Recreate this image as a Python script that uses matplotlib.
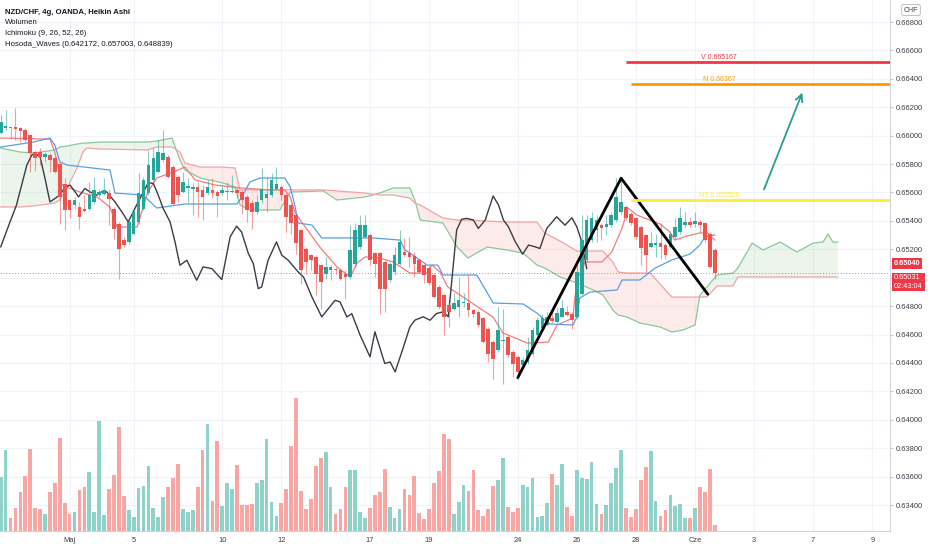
import numpy as np
import matplotlib
matplotlib.use("Agg")
import matplotlib.pyplot as plt

plt.rcParams['font.family'] = ['Liberation Sans', 'DejaVu Sans']

# Heikin Ashi candles, 4h bars
ha_open = [0.66016, 0.66051, 0.66063, 0.66058, 0.66051, 0.66039, 0.66004, 0.65886, 0.65882, 0.65851,
           0.65863, 0.65840, 0.65804, 0.65663, 0.65546, 0.65511, 0.65499, 0.65487, 0.65487, 0.65534,
           0.65581, 0.65586, 0.65593, 0.65487, 0.65381, 0.65264, 0.65252, 0.65311, 0.65393, 0.65487,
           0.65593, 0.65687, 0.65745, 0.65828, 0.65851, 0.65781, 0.65710, 0.65605, 0.65633, 0.65628,
           0.65640, 0.65617, 0.65593, 0.65617, 0.65605, 0.65593, 0.65605, 0.65605, 0.65617, 0.65605,
           0.65570, 0.65523, 0.65464, 0.65546, 0.65558, 0.65581, 0.65628, 0.65640, 0.65581, 0.65511,
           0.65440, 0.65335, 0.65205, 0.65158, 0.65147, 0.65088, 0.65029, 0.65053, 0.65064, 0.65053,
           0.65029, 0.65005, 0.65100, 0.65217, 0.65288, 0.65300, 0.65171, 0.65171, 0.65112, 0.64983,
           0.65042, 0.65100, 0.65183, 0.65171, 0.65152, 0.65124, 0.65089, 0.65065, 0.65018, 0.64936,
           0.64877, 0.64807, 0.64783, 0.64795, 0.64819, 0.64822, 0.64776, 0.64760, 0.64713, 0.64642,
           0.64548, 0.64490, 0.64555, 0.64584, 0.64478, 0.64443, 0.64384, 0.64405, 0.64460, 0.64597,
           0.64644, 0.64667, 0.64714, 0.64691, 0.64726, 0.64761, 0.64742, 0.64724, 0.64888, 0.65123,
           0.65264, 0.65335, 0.65370, 0.65358, 0.65370, 0.65405, 0.65464, 0.65499, 0.65452, 0.65417,
           0.65358, 0.65300, 0.65217, 0.65229, 0.65241, 0.65229, 0.65217, 0.65288, 0.65323, 0.65370,
           0.65393, 0.65375, 0.65393, 0.65382, 0.65311, 0.65194]
ha_close = [0.66098, 0.66070, 0.66051, 0.66046, 0.66032, 0.65969, 0.65875, 0.65840, 0.65851, 0.65868,
            0.65828, 0.65741, 0.65569, 0.65475, 0.65475, 0.65546, 0.65428, 0.65470, 0.65581, 0.65616,
            0.65605, 0.65616, 0.65557, 0.65346, 0.65205, 0.65229, 0.65393, 0.65464, 0.65593, 0.65687,
            0.65792, 0.65840, 0.65886, 0.65875, 0.65710, 0.65522, 0.65581, 0.65675, 0.65645, 0.65640,
            0.65605, 0.65565, 0.65640, 0.65593, 0.65574, 0.65617, 0.65609, 0.65612, 0.65593, 0.65546,
            0.65476, 0.65464, 0.65534, 0.65628, 0.65588, 0.65687, 0.65659, 0.65581, 0.65429, 0.65382,
            0.65241, 0.65053, 0.65111, 0.65123, 0.65029, 0.64970, 0.65076, 0.65076, 0.65053, 0.64994,
            0.65005, 0.65194, 0.65335, 0.65370, 0.65371, 0.65124, 0.65100, 0.64924, 0.64924, 0.65100,
            0.65159, 0.65253, 0.65159, 0.65143, 0.65100, 0.65042, 0.65018, 0.64960, 0.64866, 0.64795,
            0.64725, 0.64760, 0.64819, 0.64842, 0.64826, 0.64776, 0.64748, 0.64666, 0.64548, 0.64466,
            0.64431, 0.64631, 0.64565, 0.64454, 0.64396, 0.64337, 0.64419, 0.64490, 0.64632, 0.64703,
            0.64714, 0.64726, 0.64696, 0.64749, 0.64785, 0.64738, 0.64703, 0.65041, 0.65264, 0.65405,
            0.65417, 0.65405, 0.65347, 0.65375, 0.65440, 0.65570, 0.65535, 0.65417, 0.65382, 0.65288,
            0.65206, 0.65158, 0.65241, 0.65241, 0.65217, 0.65158, 0.65311, 0.65358, 0.65417, 0.65393,
            0.65370, 0.65398, 0.65370, 0.65264, 0.65076, 0.65031]
ha_high = [0.66145, 0.66180, 0.66063, 0.66192, 0.66063, 0.66051, 0.66009, 0.65898, 0.65910, 0.65886,
           0.65875, 0.65851, 0.65816, 0.65699, 0.65557, 0.65569, 0.65534, 0.65581, 0.65675, 0.65710,
           0.65628, 0.65699, 0.65628, 0.65499, 0.65393, 0.65287, 0.65405, 0.65475, 0.65734, 0.65710,
           0.65898, 0.65910, 0.65969, 0.66039, 0.65863, 0.65792, 0.65722, 0.65746, 0.65699, 0.65664,
           0.65675, 0.65652, 0.65687, 0.65699, 0.65617, 0.65652, 0.65675, 0.65722, 0.65640, 0.65617,
           0.65581, 0.65546, 0.65581, 0.65769, 0.65711, 0.65734, 0.65781, 0.65652, 0.65593, 0.65523,
           0.65452, 0.65346, 0.65217, 0.65170, 0.65158, 0.65100, 0.65147, 0.65088, 0.65076, 0.65064,
           0.65053, 0.65370, 0.65382, 0.65440, 0.65441, 0.65312, 0.65183, 0.65183, 0.65124, 0.65112,
           0.65218, 0.65336, 0.65277, 0.65288, 0.65183, 0.65136, 0.65100, 0.65089, 0.65030, 0.64948,
           0.64889, 0.64819, 0.64889, 0.65007, 0.64889, 0.65018, 0.64783, 0.64772, 0.64725, 0.64654,
           0.64560, 0.64795, 0.64783, 0.64595, 0.64490, 0.64454, 0.64443, 0.64584, 0.64654, 0.64720,
           0.64745, 0.64760, 0.64760, 0.64790, 0.64840, 0.64800, 0.64760, 0.65088, 0.65440, 0.65440,
           0.65464, 0.65440, 0.65382, 0.65440, 0.65464, 0.65699, 0.65711, 0.65511, 0.65464, 0.65429,
           0.65370, 0.65311, 0.65323, 0.65311, 0.65382, 0.65241, 0.65323, 0.65417, 0.65499, 0.65464,
           0.65429, 0.65464, 0.65405, 0.65393, 0.65323, 0.65206]
ha_low = [0.66009, 0.66039, 0.65981, 0.65969, 0.65957, 0.65957, 0.65745, 0.65750, 0.65792, 0.65816,
          0.65745, 0.65734, 0.65381, 0.65334, 0.65417, 0.65487, 0.65346, 0.65464, 0.65475, 0.65522,
          0.65569, 0.65581, 0.65370, 0.65276, 0.64994, 0.65217, 0.65240, 0.65299, 0.65381, 0.65475,
          0.65581, 0.65675, 0.65734, 0.65816, 0.65699, 0.65511, 0.65534, 0.65593, 0.65534, 0.65440,
          0.65429, 0.65405, 0.65581, 0.65558, 0.65429, 0.65581, 0.65546, 0.65598, 0.65558, 0.65452,
          0.65393, 0.65346, 0.65452, 0.65523, 0.65464, 0.65570, 0.65617, 0.65546, 0.65323, 0.65311,
          0.65170, 0.64959, 0.65029, 0.65053, 0.64876, 0.64783, 0.64994, 0.64982, 0.65029, 0.64982,
          0.64853, 0.64994, 0.65076, 0.65205, 0.65277, 0.65089, 0.65007, 0.64748, 0.64760, 0.64971,
          0.65018, 0.65089, 0.65147, 0.65077, 0.65007, 0.65030, 0.64960, 0.64948, 0.64854, 0.64783,
          0.64595, 0.64654, 0.64772, 0.64725, 0.64795, 0.64720, 0.64725, 0.64654, 0.64537, 0.64407,
          0.64290, 0.64478, 0.64255, 0.64443, 0.64302, 0.64290, 0.64372, 0.64396, 0.64450, 0.64590,
          0.64635, 0.64660, 0.64680, 0.64680, 0.64720, 0.64730, 0.64640, 0.64712, 0.64877, 0.65112,
          0.65253, 0.65253, 0.65264, 0.65300, 0.65358, 0.65393, 0.65452, 0.65405, 0.65370, 0.65276,
          0.65088, 0.65041, 0.65206, 0.65147, 0.65135, 0.65135, 0.65206, 0.65276, 0.65311, 0.65358,
          0.65358, 0.65358, 0.65323, 0.65253, 0.65065, 0.64994]

volume = [53.7, 81, 12.7, 22.7, 39.3, 55, 82, 22.7, 21.7, 17, 38.7, 48.3, 92.7, 27.7, 16.7, 18.7,
          41, 43.7, 59.3, 18.7, 110.3, 15.7, 41.7, 55.7, 103.7, 35, 21, 14, 43, 45, 64.7, 23, 14,
          34.3, 43.7, 52.7, 66.7, 22, 19.3, 21, 43.7, 81.3, 107, 29.7, 89.7, 25, 47.7, 42.3, 65.7,
          25.7, 25.7, 27.3, 47.7, 50.7, 91.7, 28.7, 14.7, 28, 41.7, 84.7, 132.7, 40.3, 22.3, 32, 65,
          73.3, 78.7, 44.3, 17, 21.7, 43.7, 61, 61, 19.3, 13, 22.7, 35.7, 39, 62, 24, 12.7, 21.7,
          42.3, 35.7, 55, 18, 12, 22, 48.3, 60, 97, 92, 17.3, 28.7, 45.7, 39.7, 61, 21, 14.7, 22,
          45, 50.7, 72.7, 24, 19, 23, 45.7, 44.3, 53, 14, 14.7, 28, 57, 45.7, 66.7, 23.7, 15.3, 61,
          53, 52.3, 68.7, 26.7, 17.3, 26, 48.3, 63, 80.7, 23, 14, 22, 51, 63.7, 80, 29.7, 15.3,
          20.7, 35.7, 24.7, 27.3, 13.3, 13.3, 22.7, 43.7, 39, 62, 6]

# Ichimoku (9, 26, 52, 26) lines: bar index / price
tenkan_bar = [0, 10.0, 11.0, 12.4, 16.1, 19.6, 22.2, 23.6, 27.7, 29.9, 31.7, 35.0, 37.4, 39.5, 43.5,
              48.6, 54.7, 57.7, 58.8, 59.8, 64.8, 68.3, 71.0, 72.4, 74.0, 77.0, 79.7, 83.1, 86.6,
              87.6, 89.2, 90.8, 93.3, 96.3, 100.0, 102.0, 104.0, 106.9, 111.2, 113.0, 116.2, 116.6,
              117.2, 118.7, 122.1, 124.1, 126.2, 127.4, 129.2, 133.9, 135.9, 136.9, 139.4, 142.0,
              143.6, 145.0]
tenkan_val = [0.65983, 0.65976, 0.65885, 0.65653, 0.65603, 0.65568, 0.65498, 0.65357, 0.65357, 0.65603,
              0.65702, 0.65744, 0.65779, 0.65688, 0.65653, 0.65632, 0.65618, 0.65618, 0.65568, 0.65456,
              0.65216, 0.65075, 0.65005, 0.65104, 0.65146, 0.65139, 0.65111, 0.65033, 0.65033, 0.65089,
              0.65040, 0.64935, 0.64878, 0.64808, 0.64723, 0.64611, 0.64583, 0.64540, 0.64547, 0.64667,
              0.64716, 0.64857, 0.64998, 0.65111, 0.65111, 0.65181, 0.65350, 0.65491, 0.65441, 0.65378,
              0.65322, 0.65265, 0.65294, 0.65315, 0.65315, 0.65265]
kijun_bar = [0, 6.6, 10.0, 11.0, 12.0, 13.5, 22.2, 23.2, 28.9, 31.7, 37.4, 48.0, 49.0, 50.6, 52.7,
             57.7, 58.8, 59.8, 60.4, 63.2, 65.2, 75.6, 81.1, 82.1, 83.1, 86.6, 88.8, 89.8, 96.7,
             100.0, 106.1, 108.9, 110.5, 111.6, 116.2, 117.0, 117.6, 119.7, 125.2, 126.2, 129.8,
             132.9, 136.3, 140.0, 142.0, 143.0, 145.0]
kijun_val = [0.65920, 0.65955, 0.65983, 0.65934, 0.65815, 0.65793, 0.65758, 0.65596, 0.65582, 0.65491,
             0.65519, 0.65519, 0.65568, 0.65674, 0.65702, 0.65702, 0.65639, 0.65498, 0.65385, 0.65371,
             0.65280, 0.65280, 0.65265, 0.65195, 0.65174, 0.65089, 0.65089, 0.65019, 0.65019, 0.64822,
             0.64815, 0.64751, 0.64702, 0.64674, 0.64667, 0.64723, 0.64857, 0.64899, 0.64914, 0.64984,
             0.64984, 0.65068, 0.65125, 0.65167, 0.65230, 0.65287, 0.65301]
chikou_bar = [0, 1.9, 3.2, 5.3, 6.3, 7.0, 8.0, 9.0, 10.0, 11.0, 12.0, 13.1, 14.1, 15.1, 15.8, 17.1,
              18.1, 19.5, 20.5, 21.5, 23.2, 24.6, 25.9, 27.6, 29.0, 30.0, 31.0, 32.0, 33.0, 34.4,
              35.4, 36.4, 37.8, 39.8, 41.1, 42.9, 44.9, 46.6, 47.9, 48.9, 50.3, 51.3, 52.3, 53.0,
              54.3, 56.0, 57.1, 58.4, 60.4, 61.5, 63.2, 65.2, 67.9, 68.9, 70.3, 71.3, 73.0, 75.0,
              76.0, 78.0, 79.1, 80.1, 81.8, 83.1, 84.1, 85.8, 87.2, 88.5, 89.9, 90.9, 92.6, 93.6,
              94.6, 96.0, 97.0, 98.4, 100.0, 101.1, 102.1, 103.1, 104.5, 106.0, 107.2, 108.5, 109.5,
              110.9, 112.9, 114.6, 116.0, 117.0, 118.0, 119.0]
chikou_val = [0.65217, 0.65393, 0.65511, 0.65792, 0.65863, 0.65875, 0.65851, 0.65699, 0.65534, 0.65557,
              0.65581, 0.65640, 0.65651, 0.65605, 0.65569, 0.65628, 0.65605, 0.65581, 0.65605, 0.65605,
              0.65534, 0.65464, 0.65393, 0.65511, 0.65605, 0.65670, 0.65663, 0.65581, 0.65487, 0.65393,
              0.65252, 0.65088, 0.65123, 0.64982, 0.65076, 0.65064, 0.64987, 0.65288, 0.65363, 0.65323,
              0.65170, 0.65100, 0.64923, 0.64935, 0.65123, 0.65252, 0.65158, 0.65123, 0.65041, 0.65005,
              0.64865, 0.64724, 0.64841, 0.64830, 0.64724, 0.64747, 0.64595, 0.64443, 0.64619, 0.64396,
              0.64407, 0.64337, 0.64513, 0.64654, 0.64701, 0.64725, 0.64701, 0.64748, 0.64760, 0.64725,
              0.65336, 0.65411, 0.65418, 0.65406, 0.65347, 0.65406, 0.65575, 0.65512, 0.65406, 0.65359,
              0.65253, 0.65166, 0.65230, 0.65218, 0.65206, 0.65347, 0.65429, 0.65370, 0.65422, 0.65358,
              0.65253, 0.65065]
span_bar = [0, 3.9, 6.6, 11.0, 12.0, 13.5, 15.5, 16.7, 17.5, 20.2, 29.7, 31.7, 34.8, 36.4, 37.4,
            40.5, 45.1, 47.6, 48.6, 50.6, 56.7, 58.8, 65.5, 68.3, 74.0, 77.0, 79.7, 83.1, 84.1, 85.2,
            89.8, 92.7, 94.9, 98.8, 102.8, 106.1, 108.9, 110.5, 113.6, 117.0, 120.3, 122.3, 124.3,
            125.4, 127.2, 129.8, 131.9, 133.9, 136.3, 138.6, 141.0, 142.0, 143.4, 145.5, 148.7,
            149.7, 152.6, 154.8, 158.3, 161.7, 165.0, 167.0, 168.0, 169.0, 170.0]
span_a = [0.65913, 0.65885, 0.65878, 0.65899, 0.65920, 0.65927, 0.65941, 0.65948, 0.65948, 0.65955,
          0.65955, 0.65962, 0.65983, 0.65829, 0.65758, 0.65702, 0.65667, 0.65639, 0.65512, 0.65477,
          0.65477, 0.65603, 0.65611, 0.65547, 0.65568, 0.65596, 0.65632, 0.65632, 0.65547, 0.65406,
          0.65385, 0.65216, 0.65139, 0.65216, 0.65195, 0.65174, 0.65089, 0.65068, 0.65005, 0.64963,
          0.64914, 0.64878, 0.64773, 0.64737, 0.64723, 0.64681, 0.64667, 0.64653, 0.64618, 0.64632,
          0.64667, 0.64878, 0.64935, 0.65019, 0.65033, 0.65068, 0.65244, 0.65195, 0.65251, 0.65181,
          0.65244, 0.65251, 0.65308, 0.65251, 0.65251]
span_b = [0.65498, 0.65498, 0.65505, 0.65526, 0.65547, 0.65632, 0.65772, 0.65885, 0.65913, 0.65906,
          0.65899, 0.65920, 0.65920, 0.65885, 0.65808, 0.65779, 0.65779, 0.65772, 0.65618, 0.65618,
          0.65618, 0.65618, 0.65618, 0.65611, 0.65596, 0.65582, 0.65582, 0.65561, 0.65526, 0.65512,
          0.65420, 0.65406, 0.65406, 0.65399, 0.65392, 0.65392, 0.65392, 0.65315, 0.65258, 0.65188,
          0.65188, 0.65188, 0.65111, 0.65040, 0.65033, 0.65033, 0.65033, 0.64956, 0.64864, 0.64864,
          0.64864, 0.64864, 0.64864, 0.64942, 0.64942, 0.65005, 0.65005, 0.65005, 0.65005, 0.65005,
          0.65005, 0.65005, 0.65005, 0.65005, 0.65005]

# Hosoda waves: A-B-C swing and projected targets
wave_bar = [105.0, 126.0, 143.6]
wave_val = [0.64296, 0.657003, 0.648839]
level_names = ["V", "N", "NT"]
level_values = [0.665167, 0.66367, 0.655506]
level_start = [127.0, 128.0, 128.0]
level_colors = ["#F23645", "#FF9800", "#FFEB3B"]

arrow_from = (154.8, 0.65603)
arrow_to = (163.0, 0.66321)

date_ticks = [14, 27, 45, 57, 75, 87, 105, 117, 129, 141, 153, 165, 177]
date_labels = ["Maj", "5", "10", "12", "17", "19", "24", "26", "28", "Cze", "3", "7", "9"]
price_ticks = [0.634, 0.636, 0.638, 0.640, 0.642, 0.644, 0.646, 0.648, 0.650,
               0.652, 0.654, 0.656, 0.658, 0.660, 0.662, 0.664, 0.666, 0.668]
badge_prices = ["0.65040", "0.65031"]
countdown = "02:43:04"

UP = "#26A69A"
DOWN = "#EF5350"

fig = plt.figure(figsize=(9.32, 5.5), dpi=100)
ax = fig.add_axes([0, 19 / 550, 890 / 932, 531 / 550])

idx = np.arange(len(ha_close))
o = np.array(ha_open)
c = np.array(ha_close)
h = np.array(ha_high)
l = np.array(ha_low)
up = c >= o
col = np.where(up, UP, DOWN)

# cloud
sx = np.array(span_bar)
sa = np.array(span_a)
sb = np.array(span_b)
ax.fill_between(sx, sa, sb, where=sa >= sb, interpolate=True, color="#43A047", alpha=0.10, lw=0, zorder=1)
ax.fill_between(sx, sa, sb, where=sa < sb, interpolate=True, color="#F44336", alpha=0.10, lw=0, zorder=1)
ax.plot(sx, sa, color="#8CC79A", lw=0.9, zorder=2)
ax.plot(sx, sb, color="#F3A3A3", lw=0.9, zorder=2)

ax.plot(tenkan_bar, tenkan_val, color="#F47B7F", lw=0.9, zorder=2)
ax.plot(kijun_bar, kijun_val, color="#5A9FE6", lw=0.9, zorder=2)
ax.plot(chikou_bar, chikou_val, color="#3A3D45", lw=1.0, zorder=2)

# candles
ax.vlines(idx, l, h, colors=col, lw=0.8, alpha=0.55, zorder=3)
body = np.maximum(np.abs(c - o), 0.00004)
ax.bar(idx, body, bottom=np.minimum(o, c), width=0.74, color=col, lw=0, zorder=4)

# last price line
ax.axhline(ha_close[-1], color="#F23645", ls=(0, (1, 2)), lw=0.7, alpha=0.7, zorder=2)

# hosoda wave + projected levels
ax.plot(wave_bar, wave_val, color="black", lw=2, zorder=5, solid_capstyle="round")
for name, val, x0, lc in zip(level_names, level_values, level_start, level_colors):
    ax.plot([x0, 181], [val, val], color=lc, lw=2, zorder=5, solid_capstyle="butt")
    ax.text(145.9, val + 0.00006, f"{name} {val}", color=lc, fontsize=5, ha="center", va="bottom", zorder=6)

ax.annotate("", xy=arrow_to, xytext=arrow_from,
            arrowprops=dict(arrowstyle="->,head_length=0.5,head_width=0.25", color="#2A9D8F", lw=1.3),
            zorder=6)

ax.set_xlim(-0.14, 180.6)
ax.set_ylim(0.63217, 0.66955)

ax.set_xticks(date_ticks)
ax.set_xticklabels(date_labels)
ax.grid(True, color="#F0F3FA", lw=0.8)
ax.set_axisbelow(True)
for s in ["top", "left"]:
    ax.spines[s].set_visible(False)
for s in ["right", "bottom"]:
    ax.spines[s].set_color("#D1D4DC")
    ax.spines[s].set_linewidth(0.8)

# volume overlay
ax_v = ax.twinx()
vcol = np.where(up, "#8FD2CA", "#F7A6A4")
ax_v.bar(idx, volume, width=0.76, color=vcol, lw=0, zorder=1)
ax_v.set_ylim(0, 531)
ax_v.set_yticks([])
for s in ax_v.spines.values():
    s.set_visible(False)

# price scale on the right (set after twinx, which moves ticks left);
# the 0.65000 label sits under the last-price badges, so it is left blank
ax.set_yticks(price_ticks)
ax.set_yticklabels(["" if abs(p - 0.650) < 1e-9 else f"{p:.5f}" for p in price_ticks])
ax.yaxis.set_ticks_position("right")
ax.yaxis.set_label_position("right")
ax.tick_params(axis="y", which="both", left=False, labelleft=False, right=True, labelright=True,
               length=2.5, pad=2, labelsize=5.4, colors="#C5C8D0", labelcolor="#3C3F48")
ax.tick_params(axis="x", length=0, pad=4, labelsize=5.4, labelcolor="#3C3F48")

# legend text
fig.text(5 / 932, 1 - 12 / 550, "NZD/CHF, 4g, OANDA, Heikin Ashi", fontsize=5.6, fontweight="bold",
         color="#131722", va="center")
fig.text(5 / 932, 1 - 23 / 550, "Wolumen", fontsize=5.6, color="#131722", va="center")
fig.text(5 / 932, 1 - 33.5 / 550, "Ichimoku (9, 26, 52, 26)", fontsize=5.6, color="#131722", va="center")
fig.text(5 / 932, 1 - 44 / 550, "Hosoda_Waves (0.642172, 0.657003, 0.648839)", fontsize=5.6,
         color="#131722", va="center")

# price scale badges
fig.text(911 / 932, 1 - 10 / 550, "CHF", fontsize=5, color="#3C3F48", ha="center", va="center",
         bbox=dict(boxstyle="round,pad=0.3", fc="white", ec="#B2B5BE", lw=0.6))
fig.text(894 / 932, 1 - 263.5 / 550, badge_prices[0], fontsize=5.3, color="white", ha="left",
         va="center", fontweight="bold", bbox=dict(boxstyle="square,pad=0.25", fc="#F23645", ec="none"))
fig.text(894 / 932, 1 - 282 / 550, badge_prices[1] + "\n" + countdown, fontsize=5.3, color="white",
         ha="left", va="center", linespacing=1.25,
         bbox=dict(boxstyle="square,pad=0.25", fc="#F23645", ec="none"))

fig.savefig("out.png", dpi=100, facecolor="white")
